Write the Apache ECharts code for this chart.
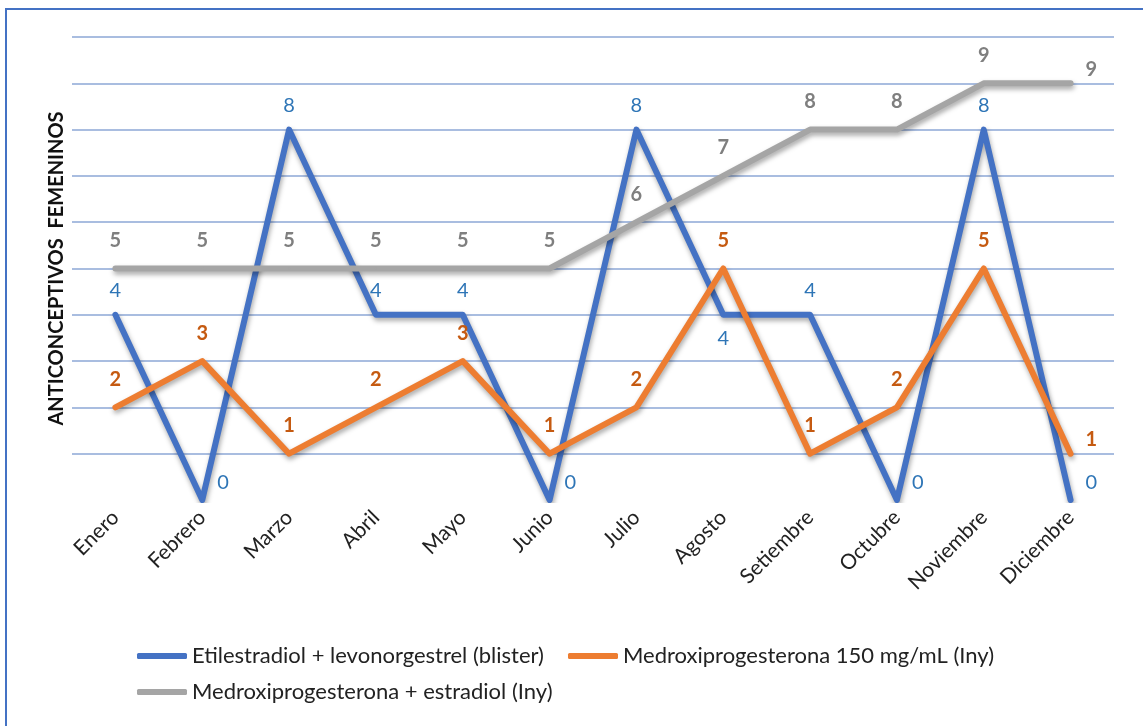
<!DOCTYPE html>
<html>
<head>
<meta charset="utf-8">
<script src="https://cdn.jsdelivr.net/npm/echarts@6/dist/echarts.min.js"></script>
<style>
  html, body { margin: 0; padding: 0; background: #fff; }
  #chart-wrapper { width: 1143px; height: 726px; }
</style>
</head>
<body>
<div id="chart-wrapper"></div>
<script>
const months = ["Enero", "Febrero", "Marzo", "Abril", "Mayo", "Junio", "Julio",
  "Agosto", "Setiembre", "Octubre", "Noviembre", "Diciembre"];
const seriesNames = [
  "Etilestradiol + levonorgestrel (blister)",
  "Medroxiprogesterona 150 mg/mL (Iny)",
  "Medroxiprogesterona + estradiol (Iny)",
];
const blister = [4, 0, 8, 4, 4, 0, 8, 4, 4, 0, 8, 0];
const medroxi150 = [2, 3, 1, 2, 3, 1, 2, 5, 1, 2, 5, 1];
const medroxiEstradiol = [5, 5, 5, 5, 5, 5, 6, 7, 8, 8, 9, 9];

const font = "Lato, 'Open Sans', sans-serif";
const gridColor = "#a9bde0";

// label placement per point (as in the original sheet)
const blisterPos = ["top", "right", "top", "top", "top", "right", "top", "bottom", "top", "right", "top", "right"];
const orangePos = ["top", "top", "top", "top", "top", "top", "top", "top", "top", "top", "top", "right"];
const grayPos = ["top", "top", "top", "top", "top", "top", "top", "top", "top", "top", "top", "right"];

const makeData = (values, pos) => values.map((v, i) => {
  const p = pos[i];
  const label = { position: p };
  if (p === "right") {
    label.distance = 14;
    label.offset = [0, v === 0 ? -17 : -14];
  }
  return { value: v, label: label };
});

const lineShadow = {
  shadowColor: "rgba(0,0,0,0.35)",
  shadowBlur: 5,
  shadowOffsetX: 1,
  shadowOffsetY: 3,
};

const chartDom = document.getElementById("chart-wrapper");
const chart = echarts.init(chartDom, null, { renderer: "canvas" });

const gridColors = [];
for (let i = 0; i <= 10; i++) gridColors.push(i === 0 ? "rgba(0,0,0,0)" : gridColor);

const legendText = { fontSize: 22, color: "#222", fontFamily: font };

const option = {
  backgroundColor: "#fff",
  animation: false,
  textStyle: { fontFamily: font },
  graphic: [
    {
      type: "rect",
      shape: { x: 6, y: 9, width: 1200, height: 800 },
      style: { fill: "none", stroke: "#4472c4", lineWidth: 2 },
      silent: true,
    },
  ],
  grid: { left: 72, right: 29, top: 37, bottom: 226, containLabel: false },
  legend: [
    {
      data: [seriesNames[0], seriesNames[1]],
      left: 132,
      top: 640,
      icon: "roundRect",
      itemWidth: 50,
      itemHeight: 6,
      itemGap: 24,
      textStyle: legendText,
    },
    {
      data: [seriesNames[2]],
      left: 132,
      top: 676,
      icon: "roundRect",
      itemWidth: 50,
      itemHeight: 6,
      textStyle: legendText,
    },
  ],
  xAxis: {
    type: "category",
    data: months,
    boundaryGap: true,
    axisLine: { show: false },
    axisTick: { show: false },
    axisLabel: {
      rotate: 45,
      interval: 0,
      margin: 14,
      fontSize: 21,
      color: "#222",
      fontFamily: font,
    },
  },
  yAxis: {
    type: "value",
    min: 0,
    max: 10,
    interval: 1,
    name: "ANTICONCEPTIVOS  FEMENINOS",
    nameLocation: "middle",
    nameGap: 5,
    nameTextStyle: { fontSize: 20, fontWeight: "bold", color: "#111", fontFamily: font },
    axisLine: { show: false },
    axisTick: { show: false },
    axisLabel: { show: false },
    splitLine: { lineStyle: { color: gridColors, width: 2 } },
  },
  series: [
    {
      name: seriesNames[0],
      type: "line",
      data: makeData(blister, blisterPos),
      symbol: "circle",
      symbolSize: 2,
      color: "#4472c4",
      lineStyle: Object.assign({ width: 6, color: "#4472c4", join: "round", cap: "round" }, lineShadow),
      label: {
        show: true,
        distance: 13,
        fontSize: 20,
        color: "#2e75b6",
        fontFamily: font,
      },
    },
    {
      name: seriesNames[1],
      type: "line",
      data: makeData(medroxi150, orangePos),
      symbol: "circle",
      symbolSize: 2,
      color: "#ed7d31",
      lineStyle: Object.assign({ width: 6, color: "#ed7d31", join: "round", cap: "round" }, lineShadow),
      label: {
        show: true,
        distance: 17,
        fontSize: 20,
        fontWeight: "bold",
        color: "#c55a11",
        fontFamily: font,
      },
    },
    {
      name: seriesNames[2],
      type: "line",
      data: makeData(medroxiEstradiol, grayPos),
      symbol: "circle",
      symbolSize: 2,
      color: "#a5a5a5",
      lineStyle: Object.assign({ width: 6, color: "#a5a5a5", join: "round", cap: "round" }, lineShadow),
      label: {
        show: true,
        distance: 17,
        fontSize: 20,
        fontWeight: "bold",
        color: "#7f7f7f",
        fontFamily: font,
      },
    },
  ],
};

option && chart.setOption(option);
</script>
</body>
</html>
